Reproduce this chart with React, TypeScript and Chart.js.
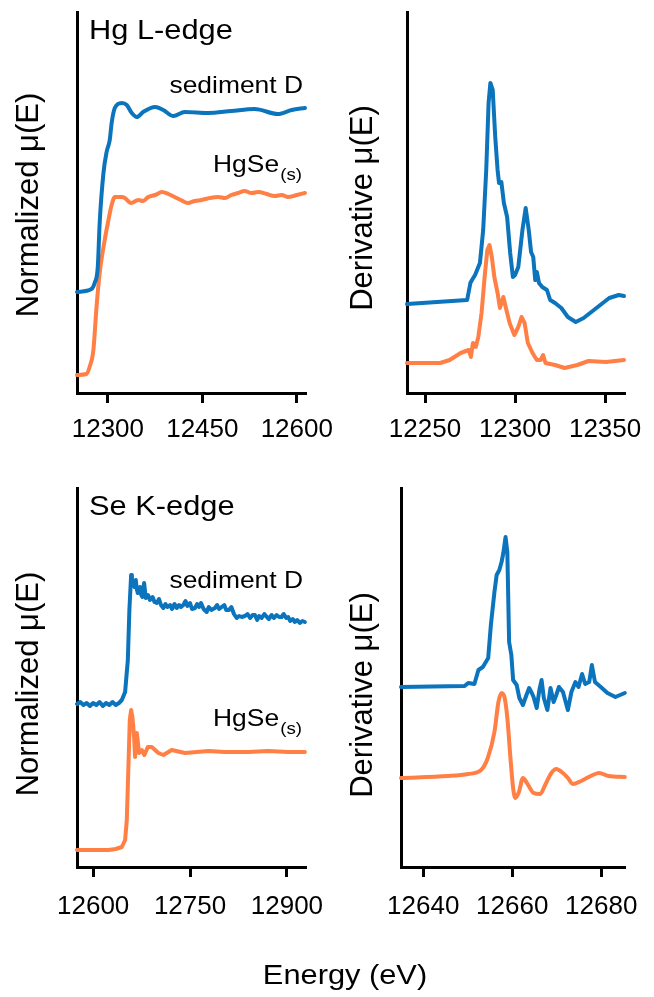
import React, { useEffect, useRef } from "react";
import { Chart, registerables } from "chart.js";

Chart.register(...registerables);

// ---------------- DATA ----------------
// Hg L-edge, normalized mu(E) (stacked, arbitrary offset units)
const hgNormTicks = [12300, 12450, 12600];
const hgSedE = [12251, 12274, 12279, 12284, 12287, 12293, 12298, 12303, 12306, 12311, 12322, 12330, 12338, 12346, 12356, 12375, 12388, 12404, 12422, 12459, 12496, 12533, 12570, 12592, 12613];
const hgSedMu = [1.01, 1.04, 1.10, 1.26, 1.70, 2.20, 2.41, 2.53, 2.70, 2.85, 2.90, 2.88, 2.80, 2.76, 2.81, 2.86, 2.83, 2.77, 2.81, 2.80, 2.82, 2.84, 2.79, 2.83, 2.85];
const hgRefE = [12251, 12266, 12271, 12277, 12282, 12287, 12295, 12300, 12306, 12311, 12322, 12327, 12337, 12348, 12356, 12364, 12375, 12386, 12396, 12406, 12416, 12427, 12438, 12449, 12462, 12475, 12486, 12496, 12507, 12517, 12528, 12539, 12552, 12565, 12576, 12586, 12600, 12613];
const hgRefMu = [0.18, 0.19, 0.26, 0.43, 0.86, 1.20, 1.53, 1.70, 1.88, 1.96, 1.96, 1.95, 1.90, 1.93, 1.92, 1.96, 1.98, 2.01, 1.99, 1.96, 1.93, 1.90, 1.92, 1.93, 1.95, 1.96, 1.95, 1.98, 2.00, 2.02, 2.00, 2.01, 1.99, 1.97, 1.98, 1.96, 1.98, 2.00];

// Hg L-edge, derivative
const hgDerivTicks = [12250, 12300, 12350];
const hgSedDE = [12240, 12273.4, 12275.2, 12276.1, 12277.8, 12280.5, 12282.3, 12284, 12285.3, 12286.3, 12287.6, 12289, 12290.3, 12291.1, 12292.4, 12293.8, 12295.6, 12297.3, 12298.8, 12300, 12301.8, 12304.1, 12305.9, 12307.6, 12308.9, 12310.1, 12311.2, 12312.1, 12313.3, 12315.1, 12317.7, 12319.5, 12322.2, 12325.7, 12329.3, 12333.7, 12338.1, 12345.2, 12352.3, 12357.6, 12360.5];
const hgSedD = [0.89, 0.93, 1.10, 1.13, 1.18, 1.30, 1.63, 2.23, 2.90, 3.10, 3.03, 2.56, 2.23, 2.10, 2.11, 1.90, 1.76, 1.40, 1.16, 1.18, 1.26, 1.63, 1.85, 1.63, 1.41, 1.36, 1.13, 1.21, 1.10, 1.06, 1.03, 0.93, 0.90, 0.85, 0.76, 0.71, 0.75, 0.85, 0.95, 0.98, 0.97];
const hgRefDE = [12240, 12258.4, 12263.7, 12269.8, 12274.3, 12275.5, 12276.6, 12278.2, 12279.6, 12281.4, 12283.1, 12284.6, 12285.8, 12287.1, 12288.5, 12290.3, 12291.6, 12293.5, 12295.2, 12297, 12299.6, 12301.8, 12303.6, 12305.3, 12307.1, 12309.7, 12312.1, 12314.2, 12315.6, 12316.9, 12322.2, 12327.5, 12334.6, 12340.8, 12350.5, 12360.5];
const hgRefD = [0.30, 0.30, 0.33, 0.40, 0.43, 0.36, 0.50, 0.46, 0.56, 0.80, 1.16, 1.43, 1.48, 1.36, 1.16, 1.00, 0.85, 0.96, 0.83, 0.70, 0.58, 0.66, 0.76, 0.70, 0.50, 0.40, 0.33, 0.33, 0.38, 0.30, 0.28, 0.25, 0.28, 0.32, 0.31, 0.33];

// Se K-edge, normalized mu(E)
const seNormTicks = [12600, 12750, 12900];
const seSedE = [12575, 12580, 12585, 12590, 12595, 12600, 12605, 12610, 12615, 12620, 12625, 12630, 12635, 12640, 12644.4, 12649.5, 12653.7, 12656.1, 12658.8, 12660, 12662.3, 12664, 12666, 12667.5, 12669.1, 12671, 12672.7, 12674.5, 12676.2, 12678.9,
  12681.5, 12685, 12688, 12692, 12695, 12698.5, 12702, 12705, 12708.7, 12712, 12715, 12719.1, 12722, 12726, 12729.4, 12733, 12736, 12739.6, 12743, 12746, 12750, 12753, 12757.7, 12761, 12764, 12767, 12771, 12775.8, 12779, 12783, 12788.6, 12792, 12795, 12799, 12803, 12806, 12810.3, 12814, 12818, 12822.2, 12826, 12830, 12835, 12839, 12843, 12847, 12850.5, 12854, 12857, 12860.9, 12865, 12869, 12872, 12876.3, 12880, 12884, 12888, 12891.8, 12895, 12899, 12902, 12905, 12909, 12912.4, 12916, 12920, 12924, 12927.8];
const seSedMu = [1.63, 1.65, 1.62, 1.64, 1.61, 1.64, 1.62, 1.65, 1.61, 1.64, 1.62, 1.65, 1.62, 1.64, 1.67, 1.75, 2.07, 2.57, 2.92, 2.88, 2.84, 2.80, 2.87, 2.78, 2.74, 2.78, 2.80, 2.72, 2.70, 2.84,
  2.69, 2.72, 2.67, 2.70, 2.65, 2.64, 2.68, 2.62, 2.59, 2.63, 2.60, 2.62, 2.58, 2.63, 2.59, 2.62, 2.60, 2.62, 2.66, 2.61, 2.64, 2.58, 2.59, 2.63, 2.60, 2.64, 2.58, 2.55, 2.60, 2.57, 2.59, 2.62, 2.58, 2.60, 2.62, 2.57, 2.57, 2.60, 2.53, 2.49, 2.51, 2.50, 2.51, 2.53, 2.49, 2.52, 2.52, 2.47, 2.51, 2.49, 2.53, 2.50, 2.48, 2.52, 2.49, 2.52, 2.50, 2.50, 2.53, 2.49, 2.50, 2.46, 2.48, 2.45, 2.47, 2.44, 2.46, 2.45];
const seRefE = [12575, 12600, 12623.7, 12635, 12644.4, 12649.5, 12652.1, 12654.6, 12656.7, 12658.8, 12660.8, 12663.4, 12664.9, 12667.6, 12671.1, 12675.3, 12679.3, 12684.6, 12690.8, 12701, 12708.7, 12721.7, 12742.3, 12778.3, 12804.1, 12840.1, 12871.1, 12902, 12927.8];
const seRefMu = [0.17, 0.17, 0.17, 0.18, 0.20, 0.27, 0.47, 1.00, 1.47, 1.57, 1.50, 1.30, 1.10, 1.34, 1.14, 1.17, 1.12, 1.20, 1.20, 1.14, 1.12, 1.17, 1.14, 1.16, 1.15, 1.15, 1.16, 1.15, 1.15];

// Se K-edge, derivative
const seDerivTicks = [12640, 12660, 12680];
const seSedDE = [12635, 12649.3, 12650.1, 12651.5, 12652.4, 12653.4, 12654.6, 12655.2, 12656, 12656.5, 12657.1, 12657.6, 12658, 12658.5, 12658.9, 12659.3, 12659.8, 12660.2, 12661, 12661.6, 12662.4, 12663.2, 12663.8, 12664.4, 12664.8, 12665.5, 12666.1, 12666.6, 12667.1, 12667.9, 12668.6, 12669.3, 12669.9, 12670.5, 12671.4, 12672.5, 12673.3, 12674.2, 12674.9, 12675.7, 12676.4, 12677.3, 12677.9, 12678.6, 12679.9, 12681.4, 12683.2, 12685.3];
const seSedD = [1.80, 1.81, 1.84, 1.83, 1.97, 2.00, 2.09, 2.42, 2.75, 2.92, 2.97, 3.05, 3.14, 3.30, 3.15, 2.25, 2.12, 1.87, 1.82, 1.69, 1.62, 1.72, 1.79, 1.74, 1.70, 1.59, 1.77, 1.87, 1.69, 1.57, 1.79, 1.65, 1.72, 1.80, 1.75, 1.57, 1.75, 1.85, 1.80, 1.93, 1.83, 1.85, 2.02, 1.85, 1.80, 1.74, 1.70, 1.74];
const seRefDE = [12635, 12645.6, 12650.1, 12653, 12654.5, 12656, 12656.9, 12657.6, 12658.3, 12658.9, 12659.6, 12660.2, 12660.7, 12661.5, 12662.4, 12663.3, 12664.8, 12666.3, 12667.4, 12668.8, 12669.9, 12671.4, 12672.5, 12673.6, 12675.5, 12678.1, 12679.5, 12681.7, 12685.3];
const seRefD = [0.89, 0.91, 0.93, 0.97, 1.09, 1.35, 1.65, 1.74, 1.69, 1.49, 1.09, 0.79, 0.69, 0.75, 0.89, 0.84, 0.74, 0.73, 0.82, 0.94, 0.98, 0.94, 0.89, 0.83, 0.86, 0.92, 0.94, 0.91, 0.90];

// ---------------- STYLE / LAYOUT ----------------
const W = 654;
const H = 997;
const XAXIS_H = 50;
const FONT = '"Liberation Sans", Arial, Helvetica, sans-serif';
const BLUE = "#0b74bd";
const ORANGE = "#ff7f45";

type TextItem = {
  text: string; x: number; y: number; size: number;
  align?: "left" | "right" | "center"; rotate?: number; stretch?: number;
  sub?: string; subSize?: number; subDy?: number;
};

const textPlugin = {
  id: "panelText",
  afterDraw(chart: any, _args: any, opts: any) {
    const ctx = chart.ctx as CanvasRenderingContext2D;
    (opts.items || []).forEach((t: TextItem) => {
      ctx.save();
      ctx.fillStyle = "#000";
      ctx.textBaseline = "alphabetic";
      ctx.textAlign = "left";
      ctx.translate(t.x, t.y);
      if (t.rotate) ctx.rotate(t.rotate);
      ctx.scale(t.stretch || 1, 1);
      ctx.font = `${t.size}px ${FONT}`;
      const mainW = ctx.measureText(t.text).width;
      let subW = 0;
      if (t.sub) {
        ctx.font = `${t.subSize}px ${FONT}`;
        subW = ctx.measureText(t.sub).width + 1;
      }
      const total = mainW + subW;
      const a = t.align || "left";
      const x0 = a === "left" ? 0 : a === "right" ? -total : -total / 2;
      ctx.font = `${t.size}px ${FONT}`;
      ctx.fillText(t.text, x0, 0);
      if (t.sub) {
        ctx.font = `${t.subSize}px ${FONT}`;
        ctx.fillText(t.sub, x0 + mainW + 1, t.subDy || 0);
      }
      ctx.restore();
    });
  },
};

type Series = { xs: number[]; ys: number[]; color: string; smooth: boolean };
type Panel = {
  left: number; top: number; right: number; bottom: number;
  xMin: number; xMax: number; ticks: number[]; tickPad: number;
  series: Series[]; texts: TextItem[];
};

const ROT = -Math.PI / 2;

const panels: Panel[] = [
  {
    left: 77, top: 12, right: 305, bottom: 393, xMin: 12251, xMax: 12613, ticks: hgNormTicks, tickPad: 11,
    series: [
      { xs: hgSedE, ys: hgSedMu, color: BLUE, smooth: true },
      { xs: hgRefE, ys: hgRefMu, color: ORANGE, smooth: true },
    ],
    texts: [
      { text: "Hg L-edge", x: 89, y: 38.5, size: 28, stretch: 1.1 },
      { text: "sediment D", x: 303, y: 92.5, size: 24, stretch: 1.1, align: "right" },
      { text: "HgSe", x: 302, y: 172, size: 24, stretch: 1.1, align: "right", sub: "(s)", subSize: 17, subDy: 8 },
      { text: "Normalized \u03bc(E)", x: 38, y: 205, size: 31, rotate: ROT, align: "center" },
    ],
  },
  {
    left: 407, top: 12, right: 634, bottom: 393, xMin: 12240, xMax: 12360.6, ticks: hgDerivTicks, tickPad: 11,
    series: [
      { xs: hgSedDE, ys: hgSedD, color: BLUE, smooth: false },
      { xs: hgRefDE, ys: hgRefD, color: ORANGE, smooth: false },
    ],
    texts: [
      { text: "Derivative \u03bc(E)", x: 372, y: 208, size: 31, rotate: ROT, align: "center" },
    ],
  },
  {
    left: 77, top: 488, right: 305, bottom: 867, xMin: 12575, xMax: 12928, ticks: seNormTicks, tickPad: 14,
    series: [
      { xs: seSedE, ys: seSedMu, color: BLUE, smooth: false },
      { xs: seRefE, ys: seRefMu, color: ORANGE, smooth: false },
    ],
    texts: [
      { text: "Se K-edge", x: 89, y: 515, size: 28, stretch: 1.1 },
      { text: "sediment D", x: 303, y: 587.5, size: 24, stretch: 1.1, align: "right" },
      { text: "HgSe", x: 302, y: 726, size: 24, stretch: 1.1, align: "right", sub: "(s)", subSize: 17, subDy: 8 },
      { text: "Normalized \u03bc(E)", x: 38, y: 684, size: 31, rotate: ROT, align: "center" },
      { text: "Energy (eV)", x: 345, y: 984, size: 28, stretch: 1.1, align: "center" },
    ],
  },
  {
    left: 401, top: 488, right: 629, bottom: 867, xMin: 12635, xMax: 12685.3, ticks: seDerivTicks, tickPad: 14,
    series: [
      { xs: seSedDE, ys: seSedD, color: BLUE, smooth: false },
      { xs: seRefDE, ys: seRefD, color: ORANGE, smooth: true },
    ],
    texts: [
      { text: "Derivative \u03bc(E)", x: 371.5, y: 695, size: 31, rotate: ROT, align: "center" },
    ],
  },
];

function zip(xs: number[], ys: number[]) {
  const n = Math.min(xs.length, ys.length);
  const out: { x: number; y: number }[] = [];
  for (let i = 0; i < n; i++) out.push({ x: xs[i], y: ys[i] });
  return out;
}

function PanelChart({ p }: { p: Panel }) {
  const ref = useRef<HTMLCanvasElement | null>(null);
  useEffect(() => {
    if (!ref.current) return;
    const chart = new Chart(ref.current, {
      type: "line",
      data: {
        datasets: p.series.map((s) => ({
          data: zip(s.xs, s.ys),
          borderColor: s.color,
          backgroundColor: s.color,
          borderWidth: 4,
          pointRadius: 0,
          fill: false,
          clip: false,
          cubicInterpolationMode: s.smooth ? "monotone" : "default",
          tension: 0,
          borderJoinStyle: "round",
          borderCapStyle: "round",
        })) as any,
      },
      options: {
        responsive: false,
        animation: false,
        events: [],
        layout: {
          padding: { left: p.left, top: p.top, right: W - p.right, bottom: H - p.bottom - XAXIS_H },
        },
        plugins: {
          legend: { display: false },
          tooltip: { enabled: false },
          panelText: { items: p.texts },
        } as any,
        scales: {
          x: {
            type: "linear",
            position: "bottom",
            min: p.xMin,
            max: p.xMax,
            afterBuildTicks: (scale: any) => {
              scale.ticks = p.ticks.map((v) => ({ value: v }));
            },
            afterFit: (scale: any) => {
              scale.height = XAXIS_H;
            },
            ticks: {
              autoSkip: false,
              maxRotation: 0,
              padding: p.tickPad,
              color: "#000",
              font: { family: FONT, size: 26 },
              callback: (v: any) => String(v),
            },
            grid: {
              display: true,
              drawOnChartArea: false,
              drawTicks: true,
              tickLength: 10,
              tickWidth: 3,
              tickColor: "#000",
              color: "#000",
              lineWidth: 3,
            },
            border: { display: true, width: 3, color: "#000" },
          },
          y: {
            type: "linear",
            min: 0,
            max: (p.bottom - p.top) / 100,
            afterFit: (scale: any) => {
              scale.width = 0;
            },
            ticks: { display: false },
            grid: { display: false, drawTicks: false },
            border: { display: true, width: 3, color: "#000" },
          },
        } as any,
      },
      plugins: [textPlugin as any],
    });
    return () => chart.destroy();
  }, [p]);
  return (
    <canvas
      ref={ref}
      width={W}
      height={H}
      style={{ position: "absolute", left: 0, top: 0, width: W, height: H, display: "block" }}
    />
  );
}

export default function App() {
  return (
    <div style={{ position: "absolute", left: 0, top: 0, width: W, height: H, background: "#fff", overflow: "hidden" }}>
      {panels.map((p, i) => (
        <PanelChart key={i} p={p} />
      ))}
    </div>
  );
}
